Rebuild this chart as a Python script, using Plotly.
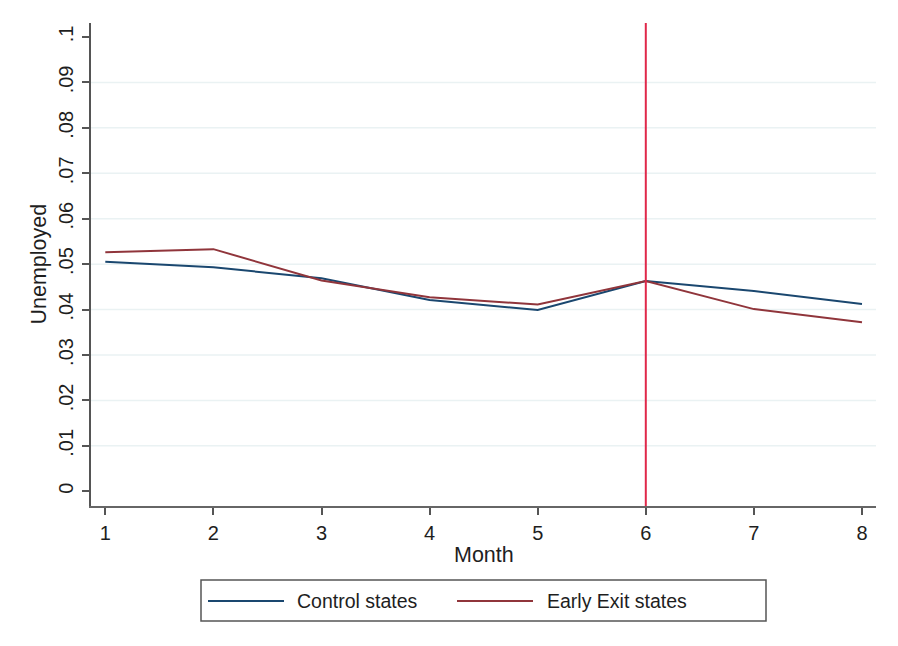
import plotly.graph_objects as go

months = [1, 2, 3, 4, 5, 6, 7, 8]
control = [0.0505, 0.0493, 0.0469, 0.0421, 0.0399, 0.0463, 0.0441, 0.0412]
early_exit = [0.0526, 0.0533, 0.0464, 0.0427, 0.0411, 0.0463, 0.0401, 0.0372]
y_tick_vals = [0, 0.01, 0.02, 0.03, 0.04, 0.05, 0.06, 0.07, 0.08, 0.09, 0.1]
y_tick_text = ["0", ".01", ".02", ".03", ".04", ".05", ".06", ".07", ".08", ".09", ".1"]
grid_vals = [0.01, 0.02, 0.03, 0.04, 0.05, 0.06, 0.07, 0.08, 0.09]
event_month = 6
series_names = ["Control states", "Early Exit states"]

BLUE = "#1a476f"
RED = "#90353b"
VRED = "#e0284a"
FONT = "Liberation Sans, Arial, Helvetica, sans-serif"
TXT = "#1e1e1e"

fig = go.Figure()
fig.add_trace(go.Scatter(x=months, y=control, mode="lines", name=series_names[0],
                         line=dict(color=BLUE, width=2)))
fig.add_trace(go.Scatter(x=months, y=early_exit, mode="lines", name=series_names[1],
                         line=dict(color=RED, width=2)))

shapes = []
for g in grid_vals:
    shapes.append(dict(type="line", xref="paper", yref="y", x0=0, x1=1, y0=g, y1=g,
                       line=dict(color="#eaf2f3", width=1.5), layer="below"))
shapes.append(dict(type="line", xref="x", yref="paper", x0=event_month, x1=event_month,
                   y0=0, y1=1, line=dict(color=VRED, width=2)))

# legend box (manual, Stata style); page-pixel helpers relative to plot area
def px_x(p):
    return (p - 91) / 785.0

def px_y(p):
    return (506 - p) / 483.0

shapes.append(dict(type="rect", xref="paper", yref="paper", x0=px_x(201), x1=px_x(766),
                   y0=px_y(621), y1=px_y(580), line=dict(color="#555555", width=1.5),
                   fillcolor="white"))
shapes.append(dict(type="line", xref="paper", yref="paper", x0=px_x(208), x1=px_x(284),
                   y0=px_y(601), y1=px_y(601), line=dict(color=BLUE, width=2)))
shapes.append(dict(type="line", xref="paper", yref="paper", x0=px_x(457), x1=px_x(533),
                   y0=px_y(601), y1=px_y(601), line=dict(color=RED, width=2)))

annotations = [
    dict(text="Month", xref="paper", yref="paper", x=0.5, y=px_y(555), showarrow=False,
         xanchor="center", yanchor="middle", font=dict(family=FONT, size=21.5, color=TXT)),
    dict(text="Unemployed", xref="paper", yref="paper", x=px_x(38), y=0.5, showarrow=False,
         textangle=-90, xanchor="center", yanchor="middle",
         font=dict(family=FONT, size=21.5, color=TXT)),
    dict(text=series_names[0], xref="paper", yref="paper", x=px_x(295), y=px_y(601),
         showarrow=False, xanchor="left", yanchor="middle",
         font=dict(family=FONT, size=19.5, color=TXT)),
    dict(text=series_names[1], xref="paper", yref="paper", x=px_x(545), y=px_y(601),
         showarrow=False, xanchor="left", yanchor="middle",
         font=dict(family=FONT, size=19.5, color=TXT)),
]

fig.update_layout(
    width=890, height=638, autosize=False,
    margin=dict(l=83, r=22, t=15, b=140, pad=0),
    paper_bgcolor="white", plot_bgcolor="white",
    showlegend=False,
    font=dict(family=FONT, size=20, color=TXT),
    shapes=shapes, annotations=annotations,
    xaxis=dict(range=[0.8677, 8.1295], tickvals=months, ticktext=[str(m) for m in months],
               showgrid=False, zeroline=False, showline=True, linecolor="#666666", linewidth=2,
               ticks="outside", ticklen=7, tickwidth=1.5, tickcolor="#555555",
               tickfont=dict(family=FONT, size=20, color=TXT), ticklabelstandoff=1),
    yaxis=dict(range=[-0.00324, 0.10308], tickvals=y_tick_vals, ticktext=y_tick_text,
               tickangle=-90, showgrid=False, zeroline=False, showline=True,
               linecolor="#555555", linewidth=2, ticks="outside", ticklen=7, tickwidth=1.5,
               tickcolor="#555555", tickfont=dict(family=FONT, size=20, color=TXT),
               ticklabelstandoff=1),
)

fig.write_html("out.html")
